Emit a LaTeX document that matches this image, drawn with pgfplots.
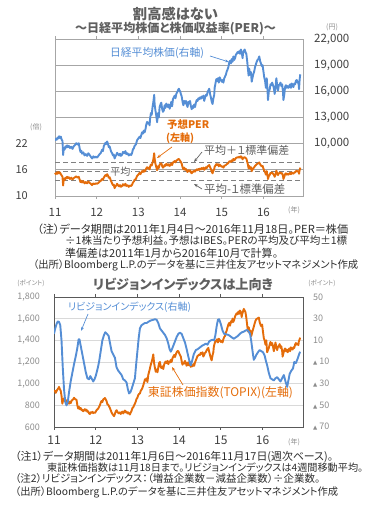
\documentclass[border=0pt]{standalone}
\usepackage{fontspec}
\usepackage{graphicx}
\usepackage{pgfplots}
\pgfplotsset{compat=1.18}
\usetikzlibrary{arrows.meta}
\setmainfont{Noto Sans CJK JP}[RawFeature=+palt]
\newfontfamily\sym{DejaVu Sans}
\definecolor{blu}{RGB}{85,142,213}
\definecolor{org}{RGB}{228,108,10}
\definecolor{ttl}{RGB}{95,95,95}
\definecolor{txt}{RGB}{45,45,45}
\definecolor{tick1}{RGB}{64,64,64}
\definecolor{tick2}{RGB}{140,140,140}
\definecolor{grid1}{RGB}{166,166,166}
\definecolor{grid2}{RGB}{217,217,217}
\definecolor{frame2}{RGB}{89,89,89}
\definecolor{dash1}{RGB}{128,128,128}
\newcommand{\fs}[1]{\fontsize{#1bp}{#1bp}\selectfont}
\newcommand{\fitw}[2]{\resizebox{#1bp}{!}{#2}}
\newcommand{\tri}{{\sym\fs{5.5}▲}}
\begin{document}
\begin{tikzpicture}[x=1bp,y=1bp]
\path[use as bounding box] (0,0) rectangle (371,506);
% ================= CHART 1 =================
\begin{axis}[at={(55bp,310bp)}, anchor=south west, width=248bp, height=157bp, scale only axis,
 xmin=2011, xmax=2016.95, ymin=10, ymax=46,
 axis line style={draw=grid1, line width=0.8bp},
 ytick={10,16,22,28,34,40,46}, yticklabels={10,16,22,{},{},{},{}},
 ymajorgrids, grid style={draw=grid1, line width=0.8bp},
 ytick style={draw=none},
 xtick={2011,2012,2013,2014,2015,2016}, xticklabels={11,12,13,14,15,16},
 xtick style={draw=grid1, line width=0.8bp}, tick align=outside, major tick length=3bp,
 xticklabel style={font=\fs{11.5}, text=tick1, anchor=north, inner sep=0pt, yshift=-9bp},
 yticklabel style={font=\fs{11}, text=tick1, anchor=east, inner sep=0pt, xshift=-24bp},
 clip=false]
\addplot[dash1, line width=1.5bp, dash pattern=on 5bp off 3bp] coordinates {(2011,17.7) (2016.95,17.7)};
\addplot[dash1, line width=1.5bp, dash pattern=on 5bp off 3bp] coordinates {(2011,15.6) (2016.95,15.6)};
\addplot[dash1, line width=1.5bp, dash pattern=on 5bp off 3bp] coordinates {(2011,13.5) (2016.95,13.5)};
\node[fill=white, inner sep=1bp, text=ttl, font=\fs{10}] at (axis cs:2012.57,15.6) {平均};
\addplot[org, line width=1.9bp, line join=round] coordinates {
(2011.00,15.3)(2011.02,15.0)(2011.04,15.4)(2011.06,15.1)(2011.08,15.5)(2011.10,15.2)(2011.12,15.4)(2011.14,15.0)(2011.16,14.7)(2011.18,14.4)(2011.195,12.4)(2011.21,13.9)(2011.23,13.6)(2011.25,14.2)(2011.27,14.0)(2011.29,14.4)(2011.31,14.1)(2011.33,14.3)(2011.36,13.9)(2011.39,14.2)(2011.42,13.8)(2011.45,14.1)(2011.48,14.3)(2011.51,14.5)(2011.54,14.2)(2011.57,14.4)(2011.59,13.8)(2011.61,13.2)(2011.63,13.5)(2011.65,13.1)(2011.68,13.4)(2011.71,12.9)(2011.74,13.2)(2011.77,12.9)(2011.80,13.3)(2011.83,13.0)(2011.86,12.8)(2011.89,12.5)(2011.92,12.9)(2011.95,12.7)(2011.98,12.9)
(2012.01,12.8)(2012.04,13.0)(2012.07,13.3)(2012.10,13.5)(2012.13,13.9)(2012.15,13.7)(2012.17,14.2)(2012.19,14.5)(2012.21,14.8)(2012.23,14.6)(2012.25,15.0)(2012.27,14.7)(2012.29,14.2)(2012.31,14.3)(2012.33,13.8)(2012.35,13.3)(2012.37,12.9)(2012.39,12.5)(2012.41,12.6)(2012.43,11.8)(2012.45,12.2)(2012.47,12.4)(2012.49,12.8)(2012.51,12.5)(2012.54,12.2)(2012.56,12.5)(2012.58,12.1)(2012.61,12.3)(2012.63,12.7)(2012.66,12.4)(2012.69,12.8)(2012.71,12.3)(2012.74,12.5)(2012.77,12.1)(2012.80,12.4)(2012.83,12.3)(2012.85,12.6)(2012.87,13.1)(2012.89,13.3)(2012.91,13.7)(2012.94,13.9)(2012.97,14.6)
(2013.00,14.9)(2013.03,15.3)(2013.05,15.0)(2013.07,15.4)(2013.09,15.7)(2013.11,15.5)(2013.13,15.9)(2013.15,15.6)(2013.17,15.9)(2013.19,16.3)(2013.21,16.6)(2013.23,16.3)(2013.25,16.5)(2013.27,16.1)(2013.28,16.7)(2013.30,17.2)(2013.32,17.0)(2013.34,17.6)(2013.36,18.4)(2013.38,19.8)(2013.39,18.6)(2013.41,17.4)(2013.43,16.6)(2013.45,15.9)(2013.47,16.8)(2013.49,16.4)(2013.51,17.2)(2013.53,17.4)(2013.55,17.5)(2013.57,16.9)(2013.59,16.5)(2013.61,16.7)(2013.63,17.1)(2013.65,16.9)(2013.67,17.4)(2013.69,17.2)(2013.71,17.0)(2013.73,17.3)(2013.75,16.9)(2013.77,17.1)(2013.79,17.5)(2013.81,17.1)(2013.83,17.7)(2013.85,17.8)(2013.87,18.0)(2013.89,17.7)(2013.91,18.1)(2013.93,18.2)(2013.95,18.4)(2013.97,18.5)
(2014.00,18.1)(2014.02,17.8)(2014.04,17.4)(2014.06,16.6)(2014.08,16.1)(2014.10,16.5)(2014.12,16.0)(2014.14,16.2)(2014.16,15.8)(2014.18,15.5)(2014.20,15.9)(2014.22,15.7)(2014.24,15.9)(2014.26,15.4)(2014.28,15.2)(2014.30,15.6)(2014.32,15.5)(2014.34,15.8)(2014.36,15.6)(2014.38,15.9)(2014.40,16.1)(2014.42,15.9)(2014.44,16.2)(2014.46,16.0)(2014.48,16.3)(2014.50,16.1)(2014.52,16.4)(2014.54,16.2)(2014.56,16.5)(2014.58,16.0)(2014.60,16.3)(2014.62,16.6)(2014.64,16.4)(2014.66,16.8)(2014.68,16.9)(2014.70,17.1)(2014.72,16.6)(2014.74,16.2)(2014.76,15.6)(2014.78,15.2)(2014.80,15.8)(2014.82,16.2)(2014.83,16.7)(2014.85,17.0)(2014.87,17.3)(2014.89,17.1)(2014.91,17.3)(2014.93,16.8)(2014.95,17.2)(2014.97,17.0)
(2015.00,16.7)(2015.02,16.8)(2015.04,16.5)(2015.06,16.9)(2015.08,17.0)(2015.10,17.1)(2015.12,17.3)(2015.14,17.4)(2015.16,17.6)(2015.18,17.9)(2015.20,18.0)(2015.22,17.8)(2015.24,18.2)(2015.26,18.0)(2015.28,18.5)(2015.30,18.2)(2015.32,18.4)(2015.34,18.7)(2015.36,18.8)(2015.38,18.9)(2015.40,18.8)(2015.42,19.0)(2015.44,18.8)(2015.46,19.1)(2015.48,18.9)(2015.50,18.4)(2015.51,18.7)(2015.53,18.8)(2015.55,18.9)(2015.57,18.7)(2015.59,18.6)(2015.61,17.9)(2015.63,17.1)(2015.645,16.3)(2015.66,16.9)(2015.68,16.3)(2015.70,16.6)(2015.72,15.7)(2015.74,16.1)(2015.76,16.4)(2015.78,16.6)(2015.80,16.9)(2015.82,17.1)(2015.84,17.3)(2015.86,17.4)(2015.88,17.5)(2015.90,17.7)(2015.92,17.3)(2015.94,17.0)(2015.96,16.8)(2015.98,16.9)
(2016.00,16.3)(2016.02,15.8)(2016.04,15.5)(2016.06,14.9)(2016.08,15.7)(2016.10,14.6)(2016.11,13.9)(2016.13,14.6)(2016.15,14.8)(2016.17,15.3)(2016.19,15.2)(2016.21,15.4)(2016.23,15.1)(2016.25,14.9)(2016.27,14.4)(2016.29,14.9)(2016.31,15.8)(2016.33,15.2)(2016.35,14.8)(2016.37,15.2)(2016.39,15.3)(2016.41,15.4)(2016.43,15.1)(2016.45,15.2)(2016.47,14.6)(2016.48,13.9)(2016.50,14.4)(2016.52,15.0)(2016.54,15.2)(2016.56,14.9)(2016.58,15.1)(2016.60,14.9)(2016.62,15.1)(2016.64,15.3)(2016.66,15.0)(2016.68,15.4)(2016.70,15.2)(2016.72,15.1)(2016.74,15.4)(2016.76,15.4)(2016.78,15.7)(2016.80,15.8)(2016.82,15.6)(2016.84,15.7)(2016.855,15.1)(2016.87,16.0)(2016.88,16.3)(2016.885,16.5)};
\end{axis}
\begin{axis}[at={(55bp,310bp)}, anchor=south west, width=248bp, height=157bp, scale only axis,
 xmin=2011, xmax=2016.95, ymin=4000, ymax=22000, scaled y ticks=false,
 axis x line=none, axis y line*=right, y axis line style={draw=none},
 ytick={10000,13000,16000,19000,22000}, yticklabels={{10,000},{13,000},{16,000},{19,000},{22,000}},
 ytick style={draw=none},
 yticklabel style={font=\fs{11.5}, text=tick1, anchor=west, inner sep=0pt, xshift=11bp}]
\addplot[blu, line width=1.9bp, line join=round] coordinates {
(2011.00,10350)(2011.02,10550)(2011.04,10450)(2011.06,10700)(2011.08,10600)(2011.10,10850)(2011.12,10650)(2011.14,10800)(2011.16,10450)(2011.18,10300)(2011.195,8700)(2011.21,9500)(2011.23,9300)(2011.25,9700)(2011.27,9550)(2011.29,9800)(2011.31,9600)(2011.33,9750)(2011.36,9500)(2011.39,9650)(2011.42,9400)(2011.45,9700)(2011.48,9850)(2011.51,10050)(2011.54,9900)(2011.57,10050)(2011.59,9500)(2011.61,9050)(2011.63,9200)(2011.65,8850)(2011.68,9000)(2011.71,8650)(2011.74,8800)(2011.77,8600)(2011.80,8900)(2011.83,8700)(2011.86,8500)(2011.89,8300)(2011.92,8550)(2011.95,8400)(2011.98,8500)
(2012.01,8400)(2012.04,8600)(2012.07,8800)(2012.10,8950)(2012.13,9300)(2012.15,9150)(2012.17,9700)(2012.19,9900)(2012.21,10100)(2012.23,9950)(2012.25,10250)(2012.27,10000)(2012.29,9600)(2012.31,9700)(2012.33,9350)(2012.35,9050)(2012.37,8900)(2012.39,8650)(2012.41,8750)(2012.43,8300)(2012.45,8550)(2012.47,8700)(2012.49,8950)(2012.51,8800)(2012.54,8650)(2012.56,8850)(2012.58,8600)(2012.61,8750)(2012.63,9050)(2012.66,8900)(2012.69,9150)(2012.71,8800)(2012.74,8900)(2012.77,8650)(2012.80,8800)(2012.83,8700)(2012.85,8950)(2012.87,9350)(2012.89,9450)(2012.91,9750)(2012.94,9900)(2012.97,10400)
(2013.00,10600)(2013.03,10800)(2013.05,10650)(2013.07,11000)(2013.09,11300)(2013.11,11150)(2013.13,11500)(2013.15,11300)(2013.17,11650)(2013.19,12200)(2013.21,12500)(2013.23,12300)(2013.25,12400)(2013.27,12100)(2013.28,12800)(2013.30,13500)(2013.32,13300)(2013.34,14200)(2013.36,14800)(2013.38,15600)(2013.39,14500)(2013.41,13800)(2013.43,13200)(2013.45,12450)(2013.47,13500)(2013.49,13000)(2013.51,14200)(2013.53,14500)(2013.55,14700)(2013.57,14000)(2013.59,13650)(2013.61,13800)(2013.63,14400)(2013.65,14100)(2013.67,14600)(2013.69,14400)(2013.71,14200)(2013.73,14500)(2013.75,14000)(2013.77,14300)(2013.79,14800)(2013.81,14300)(2013.83,15100)(2013.85,15300)(2013.87,15500)(2013.89,15200)(2013.91,15700)(2013.93,15900)(2013.95,16100)(2013.97,16300)
(2014.00,16000)(2014.02,15700)(2014.04,15400)(2014.06,14800)(2014.08,14400)(2014.10,14900)(2014.12,14600)(2014.14,14900)(2014.16,14500)(2014.18,14200)(2014.20,14800)(2014.22,14600)(2014.24,14900)(2014.26,14300)(2014.28,13950)(2014.30,14300)(2014.32,14100)(2014.34,14500)(2014.36,14200)(2014.38,14700)(2014.40,15000)(2014.42,14900)(2014.44,15200)(2014.46,15100)(2014.48,15300)(2014.50,15150)(2014.52,15400)(2014.54,15250)(2014.56,15500)(2014.58,14900)(2014.60,15300)(2014.62,15600)(2014.64,15500)(2014.66,15900)(2014.68,16100)(2014.70,16300)(2014.72,15700)(2014.74,15300)(2014.76,14800)(2014.78,14550)(2014.80,15200)(2014.82,15600)(2014.83,16400)(2014.85,16900)(2014.87,17400)(2014.89,17200)(2014.91,17500)(2014.93,17000)(2014.95,17600)(2014.97,17400)
(2015.00,17100)(2015.02,17300)(2015.04,17000)(2015.06,17500)(2015.08,17700)(2015.10,17900)(2015.12,18300)(2015.14,18500)(2015.16,18800)(2015.18,19300)(2015.20,19500)(2015.22,19200)(2015.24,19700)(2015.26,19400)(2015.28,20000)(2015.30,19600)(2015.32,19800)(2015.34,20200)(2015.36,20300)(2015.38,20500)(2015.40,20400)(2015.42,20600)(2015.44,20300)(2015.46,20800)(2015.48,20500)(2015.50,19800)(2015.51,20300)(2015.53,20600)(2015.55,20800)(2015.57,20500)(2015.59,20300)(2015.61,19500)(2015.63,18500)(2015.645,17800)(2015.66,18600)(2015.68,17900)(2015.70,18200)(2015.72,17100)(2015.74,17600)(2015.76,18000)(2015.78,18300)(2015.80,18800)(2015.82,19100)(2015.84,19400)(2015.86,19600)(2015.88,19700)(2015.90,20000)(2015.92,19500)(2015.94,19200)(2015.96,18900)(2015.98,19000)
(2016.00,18300)(2016.02,17600)(2016.04,17200)(2016.06,16400)(2016.08,17500)(2016.10,16000)(2016.11,15000)(2016.13,16000)(2016.15,16200)(2016.17,16800)(2016.19,16700)(2016.21,17000)(2016.23,16700)(2016.25,16400)(2016.27,15700)(2016.29,16400)(2016.31,17500)(2016.33,16700)(2016.35,16100)(2016.37,16700)(2016.39,16800)(2016.41,17000)(2016.43,16600)(2016.45,16800)(2016.47,15900)(2016.48,15000)(2016.50,15600)(2016.52,16500)(2016.54,16700)(2016.56,16400)(2016.58,16600)(2016.60,16400)(2016.62,16600)(2016.64,16800)(2016.66,16400)(2016.68,16900)(2016.70,16600)(2016.72,16500)(2016.74,16900)(2016.76,16800)(2016.78,17200)(2016.80,17300)(2016.82,17000)(2016.84,17100)(2016.855,16250)(2016.87,17400)(2016.88,17800)(2016.885,17950)};
\end{axis}
% chart 1 texts
\node[font=\fs{14}\bfseries, text=ttl] at (175.5,492) {\fitw{85}{割高感はない}};
\node[font=\fs{12}\bfseries, text=ttl] at (175.5,477) {\fitw{201}{～日経平均株価と株価収益率(PER)～}};
\node[font=\fs{7}, text=tick2] at (332,479) {(円)};
\node[font=\fs{7}, text=tick2] at (36,379) {(倍)};
\node[font=\fs{7}, text=tick2] at (294,296) {(年)};
\node[font=\fs{10.5}, text=blu] at (157,453) {\fitw{94}{日経平均株価(右軸)}};
\draw[blu, line width=0.7bp, -{Stealth[length=4bp,width=3bp]}] (210,450) -- (229,444);
\node[font=\fs{11}\bfseries, text=org, anchor=west, inner sep=0pt] at (167,381) {\fitw{42}{予想PER}};
\node[font=\fs{11}\bfseries, text=org, anchor=west, inner sep=0pt] at (166,368) {\fitw{28}{(左軸)}};
\draw[org, line width=0.7bp, -{Stealth[length=4bp,width=3bp]}] (172,359) -- (157,348);
\node[font=\fs{10.5}, text=ttl, anchor=west, inner sep=0pt] at (204,356) {\fitw{85}{平均＋１標準偏差}};
\draw[ttl, line width=0.7bp, -{Stealth[length=4bp,width=3bp]}] (202,354) -- (194,344);
\node[font=\fs{10.5}, text=ttl, anchor=west, inner sep=0pt] at (204,317) {\fitw{81}{平均-１標準偏差}};
\draw[ttl, line width=0.7bp, -{Stealth[length=4bp,width=3bp]}] (202,317) -- (194,322);
\node[font=\fs{10.5}, text=txt, anchor=west, inner sep=0pt] at (37,277) {\fitw{311}{（注）データ期間は2011年1月4日～2016年11月18日。PER＝株価}};
\node[font=\fs{10.5}, text=txt, anchor=west, inner sep=0pt] at (65,265) {\fitw{282}{÷1株当たり予想利益。予想はIBES。PERの平均及び平均±1標}};
\node[font=\fs{11}, text=txt, anchor=west, inner sep=0pt] at (65,253) {準偏差は2011年1月から2016年10月で計算。};
\node[font=\fs{10.5}, text=txt, anchor=west, inner sep=0pt] at (33,241) {\fitw{325}{（出所）Bloomberg L.P.のデータを基に三井住友アセットマネジメント作成}};
% ================= CHART 2 =================
\begin{axis}[at={(54bp,79bp)}, anchor=south west, width=249bp, height=130bp, scale only axis,
 xmin=2011, xmax=2016.97, ymin=600, ymax=1800,
 axis line style={draw=frame2, line width=0.8bp},
 ytick={600,800,1000,1200,1400,1600,1800}, yticklabels={600,800,{1,000},{1,200},{1,400},{1,600},{1,800}},
 ymajorgrids, grid style={draw=grid2, line width=0.8bp},
 ytick style={draw=none},
 xtick={2011,2012,2013,2014,2015,2016}, xticklabels={11,12,13,14,15,16},
 xtick style={draw=frame2, line width=0.8bp}, tick align=outside, major tick length=3bp,
 xticklabel style={font=\fs{12}, text=tick1, anchor=north, inner sep=0pt, yshift=-6bp},
 yticklabel style={font=\fs{9}, text=tick2, anchor=east, inner sep=0pt, xshift=-11bp}]
\addplot[org, line width=1.9bp, line join=round] coordinates {
(2011.00,925)(2011.02,935)(2011.04,915)(2011.06,930)(2011.08,945)(2011.10,955)(2011.12,970)(2011.14,950)(2011.16,935)(2011.18,890)(2011.20,815)(2011.22,850)(2011.24,865)(2011.26,840)(2011.28,850)(2011.30,830)(2011.32,845)(2011.34,830)(2011.36,815)(2011.38,835)(2011.40,820)(2011.42,840)(2011.44,850)(2011.46,855)(2011.48,870)(2011.50,860)(2011.52,855)(2011.54,850)(2011.56,800)(2011.58,770)(2011.60,785)(2011.62,765)(2011.64,775)(2011.66,755)(2011.68,760)(2011.70,745)(2011.72,755)(2011.74,765)(2011.76,750)(2011.78,760)(2011.80,740)(2011.82,745)(2011.84,725)(2011.86,720)(2011.88,735)(2011.90,730)(2011.92,740)(2011.94,728)(2011.96,735)(2011.98,730)
(2012.00,740)(2012.02,755)(2012.04,762)(2012.06,770)(2012.08,785)(2012.10,800)(2012.12,825)(2012.14,840)(2012.16,830)(2012.18,855)(2012.20,860)(2012.22,868)(2012.24,855)(2012.26,840)(2012.28,810)(2012.30,805)(2012.32,790)(2012.34,775)(2012.36,755)(2012.38,735)(2012.40,720)(2012.42,710)(2012.44,700)(2012.46,720)(2012.48,745)(2012.50,755)(2012.52,740)(2012.54,730)(2012.56,725)(2012.58,735)(2012.60,720)(2012.62,735)(2012.64,742)(2012.66,725)(2012.68,740)(2012.70,752)(2012.72,735)(2012.74,742)(2012.76,725)(2012.78,735)(2012.80,725)(2012.82,715)(2012.84,735)(2012.86,750)(2012.88,775)(2012.90,782)(2012.92,800)(2012.94,815)(2012.96,835)(2012.98,860)
(2013.00,870)(2013.02,895)(2013.04,905)(2013.06,910)(2013.08,935)(2013.10,945)(2013.12,960)(2013.14,985)(2013.16,1010)(2013.18,1040)(2013.20,1030)(2013.22,1050)(2013.24,1015)(2013.26,1080)(2013.28,1110)(2013.30,1140)(2013.32,1175)(2013.34,1200)(2013.36,1230)(2013.38,1270)(2013.40,1190)(2013.42,1145)(2013.44,1110)(2013.46,1130)(2013.48,1105)(2013.50,1150)(2013.52,1190)(2013.54,1200)(2013.56,1150)(2013.58,1145)(2013.60,1160)(2013.62,1135)(2013.64,1175)(2013.66,1195)(2013.68,1205)(2013.70,1190)(2013.72,1210)(2013.74,1180)(2013.76,1205)(2013.78,1195)(2013.80,1220)(2013.82,1200)(2013.84,1235)(2013.86,1250)(2013.88,1265)(2013.90,1245)(2013.92,1270)(2013.94,1290)(2013.96,1300)(2013.98,1302)
(2014.00,1280)(2014.02,1265)(2014.04,1250)(2014.06,1210)(2014.08,1175)(2014.10,1195)(2014.12,1185)(2014.14,1210)(2014.16,1190)(2014.18,1165)(2014.20,1195)(2014.22,1170)(2014.24,1200)(2014.26,1170)(2014.28,1155)(2014.30,1170)(2014.32,1160)(2014.34,1180)(2014.36,1165)(2014.38,1195)(2014.40,1215)(2014.42,1235)(2014.44,1255)(2014.46,1260)(2014.48,1270)(2014.50,1265)(2014.52,1285)(2014.54,1275)(2014.56,1290)(2014.58,1250)(2014.60,1265)(2014.62,1285)(2014.64,1290)(2014.66,1310)(2014.68,1320)(2014.70,1330)(2014.72,1295)(2014.74,1265)(2014.76,1235)(2014.78,1215)(2014.80,1260)(2014.82,1290)(2014.83,1335)(2014.85,1370)(2014.87,1395)(2014.89,1390)(2014.91,1410)(2014.93,1380)(2014.95,1415)(2014.97,1405)
(2015.00,1385)(2015.02,1395)(2015.04,1380)(2015.06,1410)(2015.08,1430)(2015.10,1440)(2015.12,1470)(2015.14,1490)(2015.16,1520)(2015.18,1545)(2015.20,1560)(2015.22,1535)(2015.24,1575)(2015.26,1565)(2015.28,1600)(2015.30,1570)(2015.32,1590)(2015.34,1620)(2015.36,1635)(2015.38,1650)(2015.40,1640)(2015.42,1665)(2015.44,1645)(2015.46,1675)(2015.48,1660)(2015.50,1615)(2015.51,1640)(2015.53,1665)(2015.55,1690)(2015.57,1675)(2015.59,1660)(2015.61,1610)(2015.63,1545)(2015.65,1480)(2015.67,1520)(2015.69,1465)(2015.71,1490)(2015.73,1440)(2015.75,1470)(2015.77,1500)(2015.79,1525)(2015.81,1555)(2015.83,1580)(2015.85,1595)(2015.87,1600)(2015.89,1605)(2015.91,1610)(2015.93,1570)(2015.95,1545)(2015.97,1530)(2015.99,1545)
(2016.01,1480)(2016.03,1420)(2016.05,1400)(2016.07,1360)(2016.09,1400)(2016.11,1290)(2016.13,1310)(2016.15,1330)(2016.17,1360)(2016.19,1385)(2016.21,1355)(2016.23,1375)(2016.25,1345)(2016.27,1300)(2016.29,1340)(2016.31,1380)(2016.33,1335)(2016.35,1310)(2016.37,1340)(2016.39,1350)(2016.41,1365)(2016.43,1330)(2016.45,1345)(2016.47,1300)(2016.48,1250)(2016.50,1280)(2016.52,1310)(2016.54,1325)(2016.56,1300)(2016.58,1315)(2016.60,1290)(2016.62,1305)(2016.64,1325)(2016.66,1300)(2016.68,1335)(2016.70,1320)(2016.72,1315)(2016.74,1335)(2016.76,1330)(2016.78,1360)(2016.80,1375)(2016.82,1360)(2016.84,1370)(2016.86,1355)(2016.87,1390)(2016.89,1410)(2016.90,1425)};
\end{axis}
\begin{axis}[at={(54bp,79bp)}, anchor=south west, width=249bp, height=130bp, scale only axis,
 xmin=2011, xmax=2016.97, ymin=-70, ymax=50,
 axis x line=none, axis y line*=right, y axis line style={draw=none},
 ytick={-70,-50,-30,-10,10,30,50}, yticklabels={{\tri\ 70},{\tri\ 50},{\tri\ 30},{\tri\ 10},10,30,50},
 ytick style={draw=none},
 yticklabel style={font=\fs{9}, text=tick2, anchor=west, inner sep=0pt, xshift=10bp}]
\addplot[blu, line width=1.9bp, line join=round] coordinates {
(2011.00,16)(2011.03,21)(2011.06,25)(2011.09,27.5)(2011.12,27)(2011.15,24)(2011.18,10)(2011.21,-15)(2011.24,-35)(2011.27,-47)(2011.30,-50)(2011.33,-47)(2011.36,-38)(2011.40,-28)(2011.44,-20)(2011.48,-12)(2011.52,-5)(2011.56,3)(2011.59,11)(2011.61,11)(2011.64,5)(2011.68,-3)(2011.72,-11)(2011.76,-19)(2011.80,-25)(2011.84,-26)(2011.87,-23)(2011.90,-25)(2011.94,-28)(2011.97,-26)
(2012.00,-23)(2012.04,-17)(2012.08,-10)(2012.12,0)(2012.16,10)(2012.20,15)(2012.23,17.5)(2012.27,16)(2012.31,14)(2012.35,6)(2012.38,0)(2012.42,-3)(2012.46,-6)(2012.50,-15)(2012.54,-18)(2012.58,-20)(2012.62,-22)(2012.66,-26)(2012.70,-27)(2012.74,-29)(2012.77,-35)(2012.80,-39)(2012.83,-38)(2012.86,-35)(2012.90,-30)(2012.94,-25)(2012.97,-12)
(2013.00,0)(2013.03,12)(2013.06,21)(2013.10,24)(2013.14,25)(2013.18,26)(2013.22,26)(2013.26,27)(2013.30,28)(2013.34,28.5)(2013.38,29)(2013.42,29.5)(2013.46,29)(2013.50,26)(2013.54,21)(2013.58,19)(2013.62,17)(2013.66,15)(2013.70,12)(2013.74,7)(2013.77,2)(2013.80,-0.5)(2013.83,2)(2013.86,5)(2013.90,9)(2013.94,13)(2013.98,16)
(2014.02,17)(2014.06,16)(2014.10,12)(2014.14,8)(2014.18,2)(2014.22,-5)(2014.26,-11)(2014.28,-13)(2014.31,-9)(2014.35,-3)(2014.40,1)(2014.45,2)(2014.50,3.5)(2014.55,5)(2014.60,6)(2014.64,7)(2014.68,6)(2014.72,9)(2014.76,10)(2014.80,10.5)(2014.84,10)(2014.87,15)(2014.90,23)(2014.93,29)(2014.96,29.5)
(2015.00,25)(2015.04,19)(2015.08,16)(2015.13,15.5)(2015.18,15)(2015.22,14)(2015.27,12.5)(2015.31,11.5)(2015.35,12.5)(2015.39,13.5)(2015.43,15)(2015.47,16.5)(2015.51,17.5)(2015.55,18)(2015.59,19)(2015.63,19.5)(2015.67,18)(2015.70,16)(2015.73,9)(2015.76,0)(2015.79,-8)(2015.82,-6)(2015.85,-3.5)(2015.89,-1)(2015.93,1)(2015.97,0)
(2016.01,-1)(2016.05,-4)(2016.08,-9)(2016.11,-13)(2016.15,-20)(2016.19,-25)(2016.23,-26)(2016.27,-27)(2016.31,-25)(2016.35,-24)(2016.39,-26)(2016.43,-28)(2016.47,-25)(2016.51,-22)(2016.55,-28)(2016.59,-33)(2016.62,-27)(2016.65,-21)(2016.69,-18)(2016.73,-16)(2016.76,-10)(2016.80,-11)(2016.84,-7)(2016.87,-3.5)(2016.90,-0.5)};
\end{axis}
% chart 2 texts
\node[font=\fs{13.5}\bfseries, text=ttl] at (183,222) {\fitw{180}{リビジョンインデックスは上向き}};
\node[font=\fs{6.5}, text=tick2] at (31,223) {(ポイント)};
\node[font=\fs{6.5}, text=tick2] at (322,223) {(ポイント)};
\node[font=\fs{7}, text=tick2] at (294,64) {(年)};
\node[font=\fs{10}, text=blu] at (129.5,199) {\fitw{123}{リビジョンインデックス(右軸)}};
\draw[blu, line width=0.7bp, -{Stealth[length=4bp,width=3bp]}] (88,192) -- (81,175);
\node[font=\fs{10}, text=org] at (220.5,113) {\fitw{145}{東証株価指数(TOPIX)(左軸)}};
\draw[org, line width=0.7bp, -{Stealth[length=4bp,width=3bp]}] (183,121) -- (172,139);
\node[font=\fs{10.5}, text=txt, anchor=west, inner sep=0pt] at (15,49) {\fitw{318}{（注1）データ期間は2011年1月6日～2016年11月17日(週次ベース)。}};
\node[font=\fs{10.5}, text=txt, anchor=west, inner sep=0pt] at (47,38) {\fitw{316}{東証株価指数は11月18日まで。リビジョンインデックスは4週間移動平均。}};
\node[font=\fs{10.5}, text=txt, anchor=west, inner sep=0pt] at (15,27) {\fitw{305}{（注2）リビジョンインデックス：（増益企業数－減益企業数）÷企業数。}};
\node[font=\fs{10.5}, text=txt, anchor=west, inner sep=0pt] at (15,14) {\fitw{323}{（出所）Bloomberg L.P.のデータを基に三井住友アセットマネジメント作成}};
\end{tikzpicture}
\end{document}
